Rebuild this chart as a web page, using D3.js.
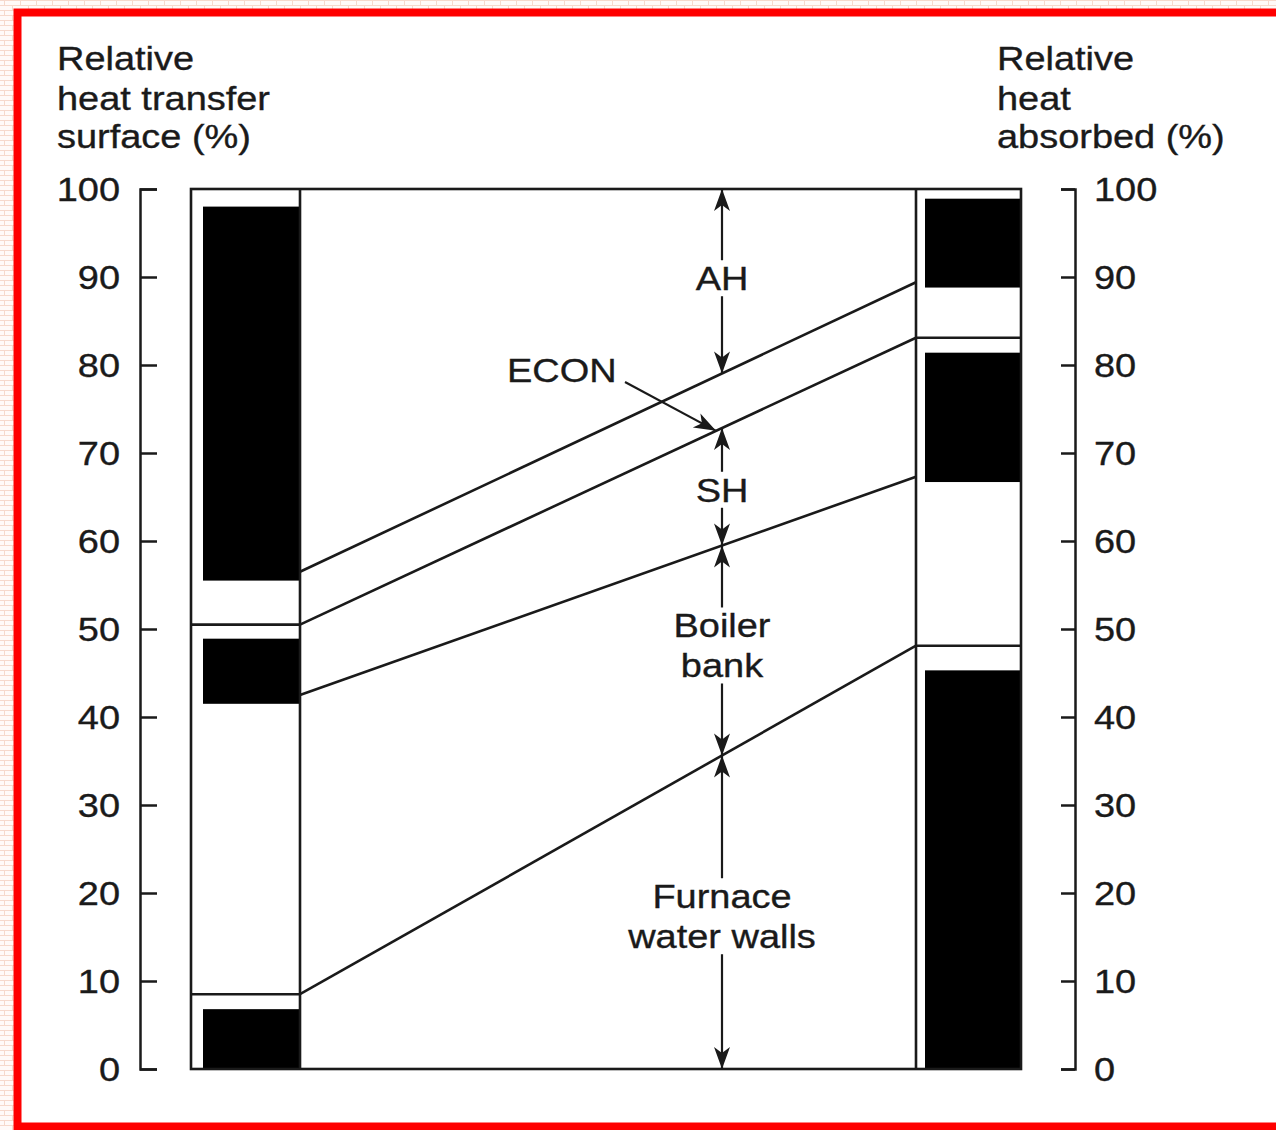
<!DOCTYPE html>
<html>
<head>
<meta charset="utf-8">
<script src="https://cdn.jsdelivr.net/npm/d3@7"></script>
<style>
  html, body { margin: 0; padding: 0; background: #fff; }
  svg { display: block; }
  text { font-family: "Liberation Sans", Arial, Helvetica, sans-serif; fill: #1a1a1a; stroke: #1a1a1a; stroke-width: 0.35px; }
</style>
</head>
<body>
<svg id="chart" width="1276" height="1130"></svg>
<script>
// ---------------- data ----------------
const tickValues = [0, 10, 20, 30, 40, 50, 60, 70, 80, 90, 100];
// black bars in the "relative heat transfer surface" column [from, to] (%)
const surfaceBars = [[0, 6.8], [41.5, 48.9], [55.5, 98.0]];
const surfaceDividers = [8.5, 50.5];
// black bars in the "relative heat absorbed" column [from, to] (%)
const absorbedBars = [[0, 45.3], [66.7, 81.4], [88.8, 98.9]];
const absorbedDividers = [48.1, 83.1];
// section boundaries: surface % (left) -> absorbed % (right)
const boundarySurface = [8.5, 42.5, 50.5, 56.5];
const boundaryAbsorbed = [48.1, 67.3, 83.1, 89.4];
// section labels, bottom to top (between consecutive boundaries on the centre line)
const sectionLabels = [["Furnace", "water walls"], ["Boiler", "bank"], ["SH"], ["ECON"], ["AH"]];
const leftTitle = ["Relative", "heat transfer", "surface (%)"];
const rightTitle = ["Relative", "heat", "absorbed (%)"];

// ---------------- layout ----------------
const W = 1276, H = 1130;
const FS = 33, SX = 1.15;
const ink = "#1a1a1a";
const leftAxisX = 140, rightAxisX = 1075;
const colL0 = 191, colL1 = 300, barL0 = 203;
const colR0 = 916, barR0 = 925, colR1 = 1021;
const arrowX = 722;
const labelShift = [1, -8, 0, 0, -6];

const y = d3.scaleLinear().domain([0, 100]).range([1069, 189]);
const svg = d3.select("#chart");

// background hatch outside the red frame
const defs = svg.append("defs");
const pat = defs.append("pattern").attr("id", "brick").attr("width", 16).attr("height", 10)
  .attr("patternUnits", "userSpaceOnUse");
pat.append("rect").attr("width", 16).attr("height", 10).attr("fill", "#fffaf8");
pat.append("path").attr("d", "M0,0.5H16M0,5.5H16M4.5,0V5M12.5,5V10")
  .attr("stroke", "#f6d9cc").attr("stroke-width", 1).attr("fill", "none");
svg.append("rect").attr("width", W).attr("height", H).attr("fill", "url(#brick)");
svg.append("rect").attr("x", 17.5).attr("y", 12.5).attr("width", W + 20).attr("height", 1114)
  .attr("fill", "#fff").attr("stroke", "#ff0000").attr("stroke-width", 8);

function addText(x, yy, str, anchor) {
  return svg.append("text")
    .attr("transform", `translate(${x},${yy}) scale(${SX},1)`)
    .attr("text-anchor", anchor || "start")
    .attr("font-size", FS)
    .text(str);
}

// titles
leftTitle.forEach((t, i) => addText(57, [70, 110, 148][i], t));
rightTitle.forEach((t, i) => addText(997, [70, 110, 148][i], t));

// axes
const gL = svg.append("g").attr("transform", `translate(${leftAxisX},0)`)
  .call(d3.axisRight(y).tickValues(tickValues).tickSize(17).tickSizeOuter(17).tickFormat(d3.format("d")));
const gR = svg.append("g").attr("transform", `translate(${rightAxisX},0)`)
  .call(d3.axisLeft(y).tickValues(tickValues).tickSize(14).tickSizeOuter(14).tickFormat(d3.format("d")));
[gL, gR].forEach(g => {
  g.attr("font-size", null).attr("font-family", null);
  g.selectAll("path, line").attr("stroke", ink).attr("stroke-width", 2.5);
});
gL.selectAll("text").attr("fill", ink).attr("font-size", FS).attr("text-anchor", "end")
  .attr("x", -20 / SX).attr("dy", "0.36em").attr("transform", `scale(${SX},1)`);
gR.selectAll("text").attr("fill", ink).attr("font-size", FS).attr("text-anchor", "start")
  .attr("x", 19 / SX).attr("dy", "0.36em").attr("transform", `scale(${SX},1)`);

// black bars
svg.selectAll("rect.barL").data(surfaceBars).join("rect").attr("class", "barL")
  .attr("x", barL0).attr("width", colL1 - barL0)
  .attr("y", d => y(d[1])).attr("height", d => y(d[0]) - y(d[1])).attr("fill", "#000");
svg.selectAll("rect.barR").data(absorbedBars).join("rect").attr("class", "barR")
  .attr("x", barR0).attr("width", colR1 - barR0)
  .attr("y", d => y(d[1])).attr("height", d => y(d[0]) - y(d[1])).attr("fill", "#000");

const lineAttrs = sel => sel.attr("stroke", ink).attr("stroke-width", 2.6).attr("fill", "none");

// frame
lineAttrs(svg.append("rect").attr("x", colL0).attr("y", y(100))
  .attr("width", colR1 - colL0).attr("height", y(0) - y(100)));
lineAttrs(svg.append("line").attr("x1", colL1).attr("x2", colL1).attr("y1", y(100)).attr("y2", y(0)));
lineAttrs(svg.append("line").attr("x1", colR0).attr("x2", colR0).attr("y1", y(100)).attr("y2", y(0)));

// dividers
surfaceDividers.forEach(v => lineAttrs(svg.append("line").attr("x1", colL0).attr("x2", colL1)
  .attr("y1", y(v)).attr("y2", y(v))));
absorbedDividers.forEach(v => lineAttrs(svg.append("line").attr("x1", colR0).attr("x2", colR1)
  .attr("y1", y(v)).attr("y2", y(v))));

// boundary lines
boundarySurface.forEach((v, i) => lineAttrs(svg.append("line")
  .attr("x1", colL1).attr("y1", y(v)).attr("x2", colR0).attr("y2", y(boundaryAbsorbed[i]))));

function boundaryAt(i, x) {
  const t = (x - colL1) / (colR0 - colL1);
  return y(boundarySurface[i]) + t * (y(boundaryAbsorbed[i]) - y(boundarySurface[i]));
}

// arrow helper: from (x1,y1) to tip (x2,y2)
function arrow(x1, y1, x2, y2) {
  lineAttrs(svg.append("line").attr("x1", x1).attr("y1", y1).attr("x2", x2).attr("y2", y2))
    .attr("stroke-width", 2.2);
  const a = Math.atan2(y2 - y1, x2 - x1);
  const L = 22, Wd = 8, N = 16;
  const bx = x2 - L * Math.cos(a), by = y2 - L * Math.sin(a);
  const nx = x2 - N * Math.cos(a), ny = y2 - N * Math.sin(a);
  const px = -Math.sin(a) * Wd, py = Math.cos(a) * Wd;
  svg.append("path")
    .attr("d", `M${x2},${y2}L${bx + px},${by + py}L${nx},${ny}L${bx - px},${by - py}Z`)
    .attr("fill", ink);
}

// sections along the centre line: bounds bottom..top
const bounds = [y(0), boundaryAt(0, arrowX), boundaryAt(1, arrowX), boundaryAt(2, arrowX), boundaryAt(3, arrowX), y(100)];
sectionLabels.forEach((lab, i) => {
  const lo = bounds[i], hi = bounds[i + 1];
  if (lab[0] === "ECON") {
    // label to the left with a leader arrow onto the SH/ECON boundary
    addText(507, 382, lab[0], "start");
    const tx = arrowX - 6;
    arrow(625, 382, tx, boundaryAt(2, tx));
    return;
  }
  const mid = (lo + hi) / 2 + 3 + labelShift[i];
  const n = lab.length;
  const half = 18 + 20 * (n - 1);
  lab.forEach((t, k) => addText(arrowX, mid - 20 * (n - 1) + 40 * k + 12, t, "middle"));
  arrow(arrowX, mid - half, arrowX, hi);
  arrow(arrowX, mid + half, arrowX, lo);
});
</script>
</body>
</html>
